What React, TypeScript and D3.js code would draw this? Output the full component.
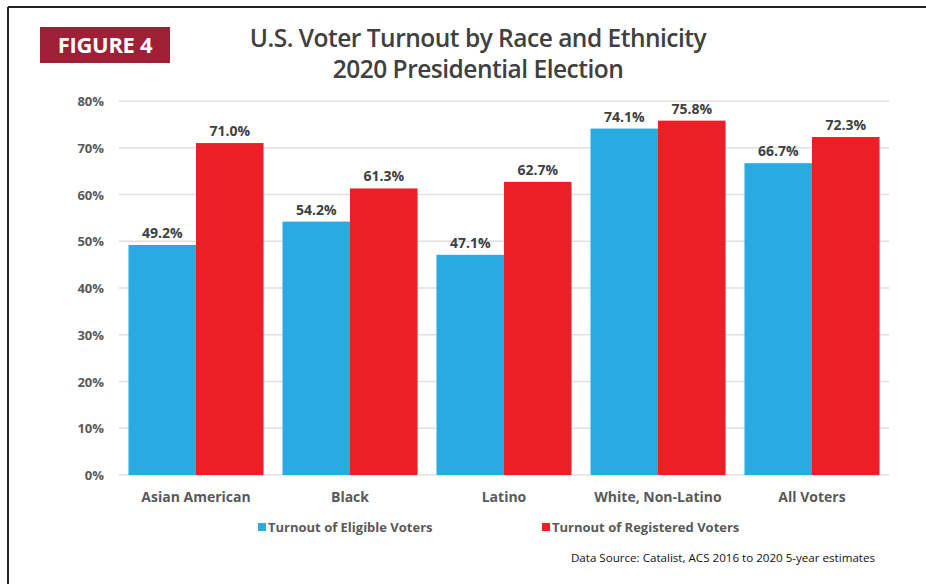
import React from 'react';
import * as d3 from 'd3';

const categories = ['Asian American', 'Black', 'Latino', 'White, Non-Latino', 'All Voters'];
const eligible = [49.2, 54.2, 47.1, 74.1, 66.7];
const registered = [71.0, 61.3, 62.7, 75.8, 72.3];
const seriesNames = ['Turnout of Eligible Voters', 'Turnout of Registered Voters'];
const yTicks = [0, 10, 20, 30, 40, 50, 60, 70, 80];

const colors = ['#29abe2', '#ed1f26'];
const font = '"Open Sans", sans-serif';

export default function App() {
  const width = 926, height = 584;
  const left = 119, right = 889, top = 101, bottom = 475;

  const x = d3.scaleBand().domain(categories).range([left, right]).paddingInner(0.123).paddingOuter(0.0615);
  const x1 = d3.scaleBand().domain(['0', '1']).range([0, x.bandwidth()]);
  const y = d3.scaleLinear().domain([0, 80]).range([bottom, top]);

  const series = [eligible, registered];

  return (
    <svg width={width} height={height} style={{ position: 'absolute', left: 0, top: 0, background: '#fff' }}>
      <line x1={8} y1={7} x2={926} y2={7} stroke="#222" strokeWidth={2} />
      <line x1={8} y1={7} x2={8} y2={584} stroke="#222" strokeWidth={2} />

      <rect x={40} y={27} width={130} height={36} fill="#9e1f36" />
      <text x={105} y={53} textAnchor="middle" fill="#fff" fontFamily={font} fontWeight={700} fontSize={22} letterSpacing={-0.3}>FIGURE 4</text>

      <text x={478} y={47} textAnchor="middle" fill="#404040" fontFamily={font} fontWeight={600} fontSize={24.5} letterSpacing={-0.5}>U.S. Voter Turnout by Race and Ethnicity</text>
      <text x={478} y={78} textAnchor="middle" fill="#404040" fontFamily={font} fontWeight={600} fontSize={24.5} letterSpacing={-0.5}>2020 Presidential Election</text>

      {yTicks.map(t => (
        <g key={t}>
          <line x1={left} x2={right} y1={y(t)} y2={y(t)} stroke="#e0e0e0" strokeWidth={1.3} />
          <text x={104} y={y(t) + 5} textAnchor="end" fill="#595959" fontFamily={font} fontWeight={700} fontSize={13}>{t}%</text>
        </g>
      ))}

      {categories.map((c, i) => (
        <g key={c}>
          {series.map((s, k) => {
            const bx = (x(c) as number) + (x1(String(k)) as number);
            return (
              <g key={k}>
                <rect x={bx} y={y(s[i])} width={x1.bandwidth()} height={bottom - y(s[i])} fill={colors[k]} />
                <text x={bx + x1.bandwidth() / 2} y={y(s[i]) - 7} textAnchor="middle" fill="#404040" fontFamily={font} fontWeight={700} fontSize={14}>{s[i].toFixed(1)}%</text>
              </g>
            );
          })}
          <text x={(x(c) as number) + x.bandwidth() / 2} y={502} textAnchor="middle" fill="#595959" fontFamily={font} fontWeight={700} fontSize={14}>{c}</text>
        </g>
      ))}

      {seriesNames.map((n, k) => {
        const lx = k === 0 ? 258 : 542;
        return (
          <g key={n}>
            <rect x={lx} y={523} width={8} height={8} fill={colors[k]} />
            <text x={lx + 10} y={532} fill="#595959" fontFamily={font} fontWeight={700} fontSize={13}>{n}</text>
          </g>
        );
      })}

      <text x={875} y={562} textAnchor="end" fill="#111" fontFamily={font} fontSize={11.6}>Data Source: Catalist, ACS 2016 to 2020 5-year estimates</text>
    </svg>
  );
}
